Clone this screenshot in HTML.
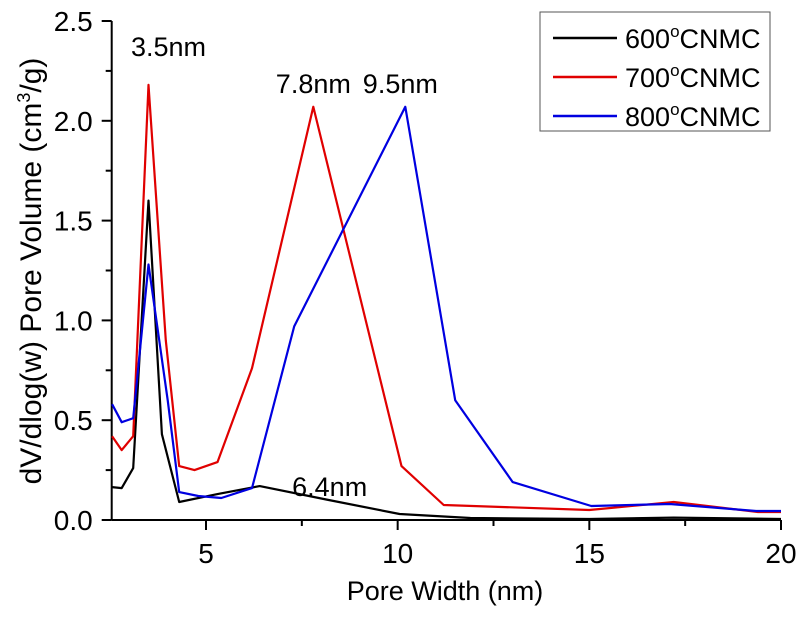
<!DOCTYPE html>
<html><head><meta charset="utf-8"><style>
body{margin:0;background:#fff;width:800px;height:613px;overflow:hidden}
svg text{font-family:"Liberation Sans",Arial,sans-serif;fill:#000}
</style></head><body>
<svg id="chart" width="800" height="613" viewBox="0 0 800 613" xmlns="http://www.w3.org/2000/svg">
<g id="axes"></g>
<g id="series"></g>
<g id="annot"></g>
<g id="legend">
<rect x="540" y="12" width="230" height="119" fill="#fff" stroke="#555" stroke-width="1"/>
</g>
</svg>
<script>
const xTicks=[5,10,15,20];
const yTicks=[0,0.5,1.0,1.5,2.0,2.5];
const yTickLabels=["0.0","0.5","1.0","1.5","2.0","2.5"];
const seriesNames=["600","700","800"];
const seriesColors=["#000000","#e00000","#0000e0"];
const x600=[2.55,2.8,3.1,3.5,3.85,4.3,5.3,6.4,8.2,10.05,11.9,15,17.2,20];
const y600=[0.165,0.16,0.26,1.60,0.43,0.09,0.13,0.17,0.10,0.03,0.01,0.005,0.012,0.005];
const x700=[2.55,2.8,3.1,3.5,3.95,4.3,4.7,5.3,6.2,7.8,10.1,11.2,15.0,17.2,19.4,20];
const y700=[0.42,0.35,0.42,2.18,0.9,0.27,0.25,0.29,0.76,2.07,0.27,0.075,0.05,0.09,0.04,0.04];
const x800=[2.55,2.8,3.1,3.5,4.0,4.3,4.8,5.4,6.2,7.3,10.2,11.5,13,15.05,17.1,19.35,20];
const y800=[0.58,0.49,0.51,1.28,0.6,0.14,0.12,0.11,0.16,0.97,2.07,0.6,0.19,0.07,0.08,0.045,0.045];
const annX=[3.5,7.8,10.2,6.4];
const annY=[2.18,2.07,2.07,0.17];
const annText=["3.5nm","7.8nm","9.5nm","6.4nm"];

const X0=111.7,X1=781,Y0=520,Y1=21,xmin=2.54,xmax=20,ymin=0,ymax=2.5;
const sx=v=>X0+(v-xmin)/(xmax-xmin)*(X1-X0);
const sy=v=>Y0-(v-ymin)/(ymax-ymin)*(Y0-Y1);
const NS="http://www.w3.org/2000/svg";
function mk(tag,attrs,parent,txt){const e=document.createElementNS(NS,tag);for(const k in attrs)e.setAttribute(k,attrs[k]);if(txt!==undefined)e.textContent=txt;parent.appendChild(e);return e;}
const axes=document.getElementById('axes');
let e;
e=mk('line',{x1:X0,y1:Y0,x2:X1,y2:Y0,stroke:'#000','stroke-width':2},axes);


e=mk('line',{x1:X0,y1:Y0,x2:X0,y2:Y1,stroke:'#000','stroke-width':2},axes);


for(let v=2.5;v<=20.01;v+=2.5){const major=Math.abs(v%5)<0.01;
 if(v<xmin) continue;
 e=mk('line',{x1:sx(v),y1:Y0,x2:sx(v),y2:Y0+(major?10:6),stroke:'#000','stroke-width':2},axes);
 
 }
xTicks.forEach(v=>{e=mk('text',{x:sx(v),y:Y0+43,'font-size':28,'text-anchor':'middle'},axes,String(v));
 
 });
for(let v=0;v<=2.501;v+=0.25){const major=Math.abs((v*2)%1)<0.01;
 e=mk('line',{x1:X0,y1:sy(v),x2:X0-(major?10:6),y2:sy(v),stroke:'#000','stroke-width':2},axes);
 
 }
yTicks.forEach((v,i)=>{e=mk('text',{x:X0-19,y:sy(v)+10,'font-size':28,'text-anchor':'end'},axes,yTickLabels[i]);
 
 });
e=mk('text',{x:445,y:600,'font-size':27,'text-anchor':'middle'},axes,'Pore Width (nm)');


e=mk('text',{x:0,y:0,'font-size':30,'text-anchor':'middle',transform:'translate(41,271) rotate(-90)'},axes);


e.innerHTML='dV/dlog(w) Pore Volume (cm<tspan font-size="18" dy="-11">3</tspan><tspan dy="11">/g)</tspan>';
const ser=document.getElementById('series');
[[x600,y600],[x700,y700],[x800,y800]].forEach((d,i)=>{
 const pts=d[0].map((x,j)=>sx(x).toFixed(1)+','+sy(d[1][j]).toFixed(1)).join(' ');
 e=mk('polyline',{points:pts,fill:'none',stroke:seriesColors[i],'stroke-width':2.2,'stroke-linejoin':'round'},ser);
 
 
});
const ann=document.getElementById('annot');
const annDx=[20,0,-5,70],annDy=[-29,-14,-14,10];
annText.forEach((t,i)=>{e=mk('text',{x:sx(annX[i])+annDx[i],y:sy(annY[i])+annDy[i],'font-size':27,'text-anchor':'middle'},ann,t);
 
 });
const leg=document.getElementById('legend');
seriesNames.forEach((n,i)=>{const y=38+i*39;
 e=mk('line',{x1:553,y1:y,x2:617,y2:y,stroke:seriesColors[i],'stroke-width':2.5},leg);
 
 
 e=mk('text',{x:625,y:y+10,'font-size':27},leg);
 
 
 e.innerHTML=n+'<tspan font-size="17" dy="-11">o</tspan><tspan dy="11">CNMC</tspan>';
});
</script>
</body></html>
